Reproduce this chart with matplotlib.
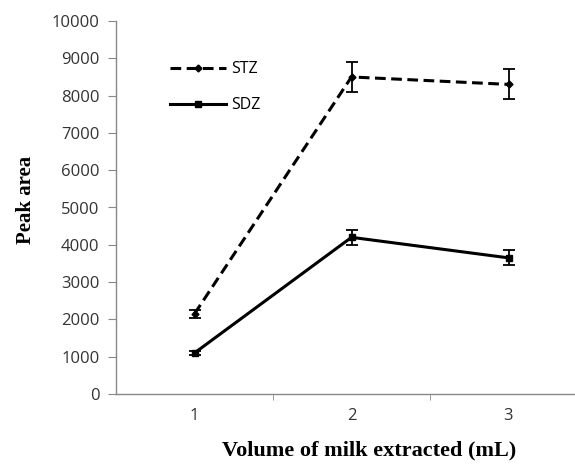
import matplotlib
matplotlib.use("Agg")
import matplotlib.pyplot as plt
from matplotlib.lines import Line2D

volumes = [1, 2, 3]
stz_values = [2150, 8500, 8300]
stz_err = [100, 400, 400]
sdz_values = [1100, 4200, 3650]
sdz_err = [60, 200, 200]
yticks = [0, 1000, 2000, 3000, 4000, 5000, 6000, 7000, 8000, 9000, 10000]

fig = plt.figure(figsize=(5.75, 4.65), dpi=100)
ax = fig.add_axes([116/575, 71/465, 471/575, 373/465])

stz_ls = (0, (3.5, 1.8))
ax.errorbar(volumes, stz_values, yerr=stz_err, color='black', ls=stz_ls, lw=2.2,
            marker='D', ms=3.5, capsize=4, elinewidth=1.3, capthick=1.3)
ax.errorbar(volumes, sdz_values, yerr=sdz_err, color='black', ls='-', lw=2.2,
            marker='s', ms=5, capsize=4, elinewidth=1.3, capthick=1.3)

ax.set_xlim(0.5, 3.5)
ax.set_ylim(0, 10000)
ax.set_yticks(yticks)
ax.set_yticklabels([str(v) for v in yticks], fontsize=12, family='Open Sans', color='#333333')
ax.set_xticks(volumes)
ax.set_xticklabels([str(v) for v in volumes], fontsize=12, family='Open Sans', color='#333333')
ax.set_xticks([1.5, 2.5], minor=True)
ax.tick_params(axis='x', which='major', length=0, pad=10)
ax.tick_params(axis='x', which='minor', length=4, color='#888888', direction='out')
ax.tick_params(axis='y', length=6, color='#888888', direction='out', pad=6)
for s in ['top', 'right']:
    ax.spines[s].set_visible(False)
for s in ['left', 'bottom']:
    ax.spines[s].set_color('#888888')
    ax.spines[s].set_linewidth(1.0)

ax.set_ylabel('Peak area', family='Liberation Serif', fontweight='bold', fontsize=15)
ax.yaxis.set_label_coords(-80/471, 0.52)
ax.set_xlabel('Volume of milk extracted (mL)', family='Liberation Serif', fontweight='bold',
              fontsize=16)
ax.xaxis.set_label_coords(253.5/471, -46/373)

handles = [Line2D([], [], color='black', ls=stz_ls, lw=2.2, marker='D', ms=3.5),
           Line2D([], [], color='black', ls='-', lw=2.2, marker='s', ms=5)]
ax.legend(handles, ['STZ', 'SDZ'], loc='upper left', bbox_to_anchor=(0.085, 0.93), frameon=False,
          prop={'family': 'Open Sans', 'size': 11.5}, handlelength=3.5, labelspacing=1.25,
          handletextpad=0.3)

fig.savefig('out.png', dpi=100)
